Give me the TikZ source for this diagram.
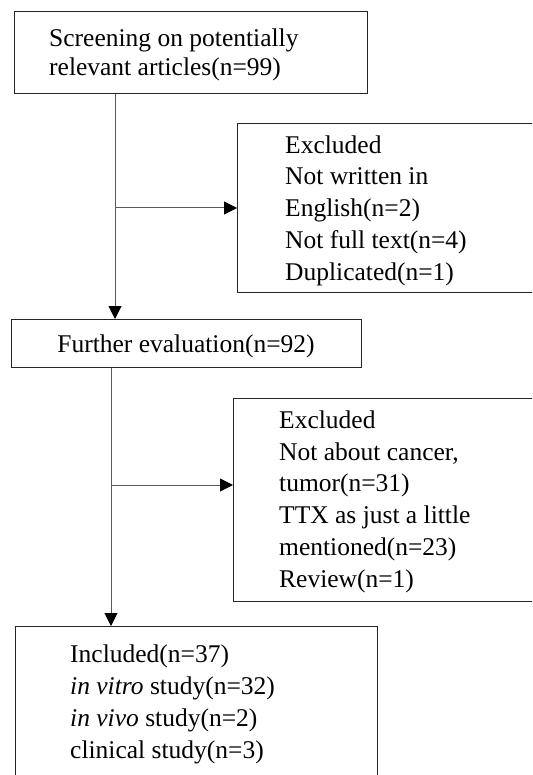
\documentclass[tikz,border=0pt]{standalone}
\usepackage{fontspec}
\setmainfont{Liberation Serif}
\usetikzlibrary{arrows.meta}

\tikzset{
  flowbox/.style={draw=black!85, line width=1pt, rectangle, inner sep=0pt, anchor=north west},
  boxtext/.style={anchor=base west, inner sep=0pt, align=left,
    font=\fontsize{25.5}{31.7}\selectfont},
  link/.style={draw=black!65, line width=1pt},
  flowarrow/.style={link, -{Triangle[length=13pt, width=13pt, color=black]}}
}

\begin{document}
\begin{tikzpicture}[x=1pt, y=-1pt]
  \useasboundingbox (0,0) rectangle (532,775);
  \begin{scope}
    \clip (0,0) rectangle (532,775);

    % boxes (the right-hand ones and the last one run past the page edge)
    \node[flowbox, minimum width=353pt, minimum height=82pt] (b1) at (14,11) {};
    \node[flowbox, minimum width=330pt, minimum height=169pt] (b2) at (237,123) {};
    \node[flowbox, minimum width=350pt, minimum height=48pt] (b3) at (11,319) {};
    \node[flowbox, minimum width=330pt, minimum height=203pt] (b4) at (233,398) {};
    \node[flowbox, minimum width=362pt, minimum height=200pt] (b5) at (15,626) {};

    % texts, each placed by the baseline of its last line
    \node[boxtext, font=\fontsize{25.5}{29.4}\selectfont] (t1) at (49,76)
      {Screening on potentially\\relevant articles(n=99)};
    \node[boxtext] (t2) at (285,280)
      {Excluded\\Not written in\\English(n=2)\\Not full text(n=4)\\Duplicated(n=1)};
    \node[boxtext, anchor=base] (t3) at (186,352) {Further evaluation(n=92)};
    \node[boxtext] (t4) at (279,587)
      {Excluded\\Not about cancer,\\tumor(n=31)\\TTX as just a little\\mentioned(n=23)\\Review(n=1)};
    \node[boxtext] (t5) at (70,758)
      {Included(n=37)\\\textit{in vitro} study(n=32)\\\textit{in vivo} study(n=2)\\clinical study(n=3)};

    % branch points of the two exclusion arrows
    \coordinate (j1) at (115,208);
    \coordinate (j2) at (111,485);

    % connectors
    \draw[flowarrow] (b1.south -| j1) -- (b3.north -| j1);
    \draw[flowarrow] (j1) -- (b2.west |- j1);
    \draw[flowarrow] (b3.south -| j2) -- (b5.north -| j2);
    \draw[flowarrow] (j2) -- (b4.west |- j2);
  \end{scope}
\end{tikzpicture}
\end{document}
